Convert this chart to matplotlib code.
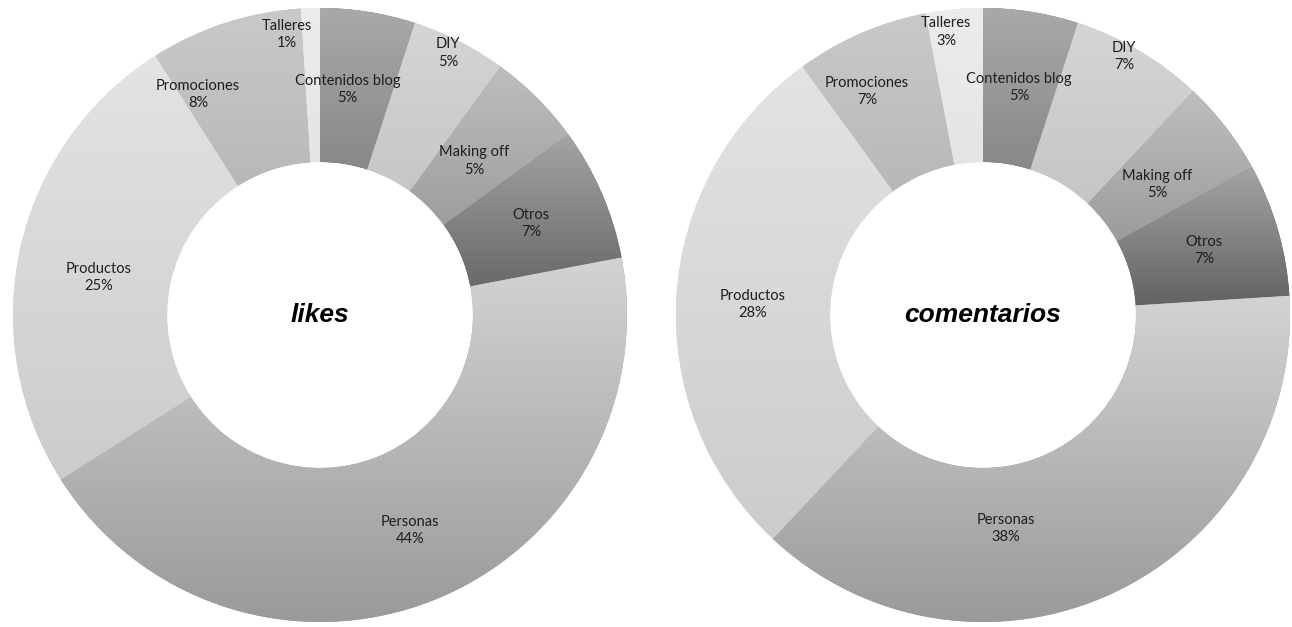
import numpy as np
import matplotlib
matplotlib.use("Agg")
import matplotlib.pyplot as plt
from matplotlib.patches import Wedge
from matplotlib.colors import LinearSegmentedColormap

# ---------------------------------------------------------------------------
# Data
# ---------------------------------------------------------------------------
categories = ["Contenidos blog", "DIY", "Making off", "Otros",
              "Personas", "Productos", "Promociones", "Talleres"]
likes = [5, 5, 5, 7, 44, 25, 8, 1]
comentarios = [5, 7, 5, 7, 38, 28, 7, 3]

# ---------------------------------------------------------------------------
# Style / layout
# ---------------------------------------------------------------------------
# vertical gradient per slice: (top colour, bottom colour)
shades = {
    "Contenidos blog": ("#a9a9a9", "#6a6a6a"),
    "DIY":             ("#d5d5d5", "#bcbcbc"),
    "Making off":      ("#bebebe", "#8b8b8b"),
    "Otros":           ("#a4a4a4", "#5e5e5e"),
    "Personas":        ("#d3d3d3", "#999999"),
    "Productos":       ("#e3e3e3", "#cccccc"),
    "Promociones":     ("#c9c9c9", "#acacac"),
    "Talleres":        ("#ececec", "#dddddd"),
}

W, H = 1292, 627
R_OUT, R_IN = 307, 153

# label radius (fraction of outer radius) and angle nudge in degrees
label_r_likes = [0.74, 0.95, 0.71, 0.75, 0.76, 0.73, 0.82, 0.92]
label_da_likes = [2, 1, 0, 0, 1, 3, 11, 5]
label_r_com = [0.75, 0.96, 0.71, 0.75, 0.70, 0.75, 0.82, 0.93]
label_da_com = [0, 2, -1, 0, -19, 1, 4, 2]

LABEL_FONT = ["Lato", "DejaVu Sans"]


def donut(ax, center, values, title, label_r, label_da):
    cx, cy = center
    theta = 90.0
    for name, v, lr, da in zip(categories, values, label_r, label_da):
        span = v / sum(values) * 360.0
        t1, t2 = theta - span, theta
        w = Wedge((cx, cy), R_OUT, t1, t2, width=R_OUT - R_IN,
                  facecolor=shades[name][1], edgecolor="none", zorder=1)
        ax.add_patch(w)

        # gradient fill clipped to the slice
        verts = w.get_path().vertices
        x0, y0 = verts.min(axis=0)
        x1, y1 = verts.max(axis=0)
        cmap = LinearSegmentedColormap.from_list(name, shades[name][::-1])
        grad = np.linspace(0, 1, 256).reshape(-1, 1)
        im = ax.imshow(grad, cmap=cmap, origin="lower", aspect="auto",
                       extent=[x0, x1, y0, y1], interpolation="bilinear",
                       zorder=2)
        im.set_clip_path(w)

        mid = np.radians((t1 + t2) / 2 + da)
        ax.text(cx + lr * R_OUT * np.cos(mid), cy + lr * R_OUT * np.sin(mid),
                f"{name}\n{v}%", ha="center", va="center", fontsize=10.5,
                color="#1e1e1e", family=LABEL_FONT, linespacing=1.3,
                zorder=4)
        theta = t1

    ax.text(cx, cy, title, ha="center", va="center", fontsize=19,
            fontweight="bold", fontstyle="italic", family="Liberation Sans",
            zorder=4)


fig = plt.figure(figsize=(W / 100, H / 100), dpi=100)
ax = fig.add_axes([0, 0, 1, 1])
ax.axis("off")

donut(ax, (320, H - 315), likes, "likes", label_r_likes, label_da_likes)
donut(ax, (983, H - 315), comentarios, "comentarios", label_r_com, label_da_com)

ax.set_xlim(0, W)
ax.set_ylim(0, H)
fig.savefig("out.png", dpi=100, facecolor="white")
